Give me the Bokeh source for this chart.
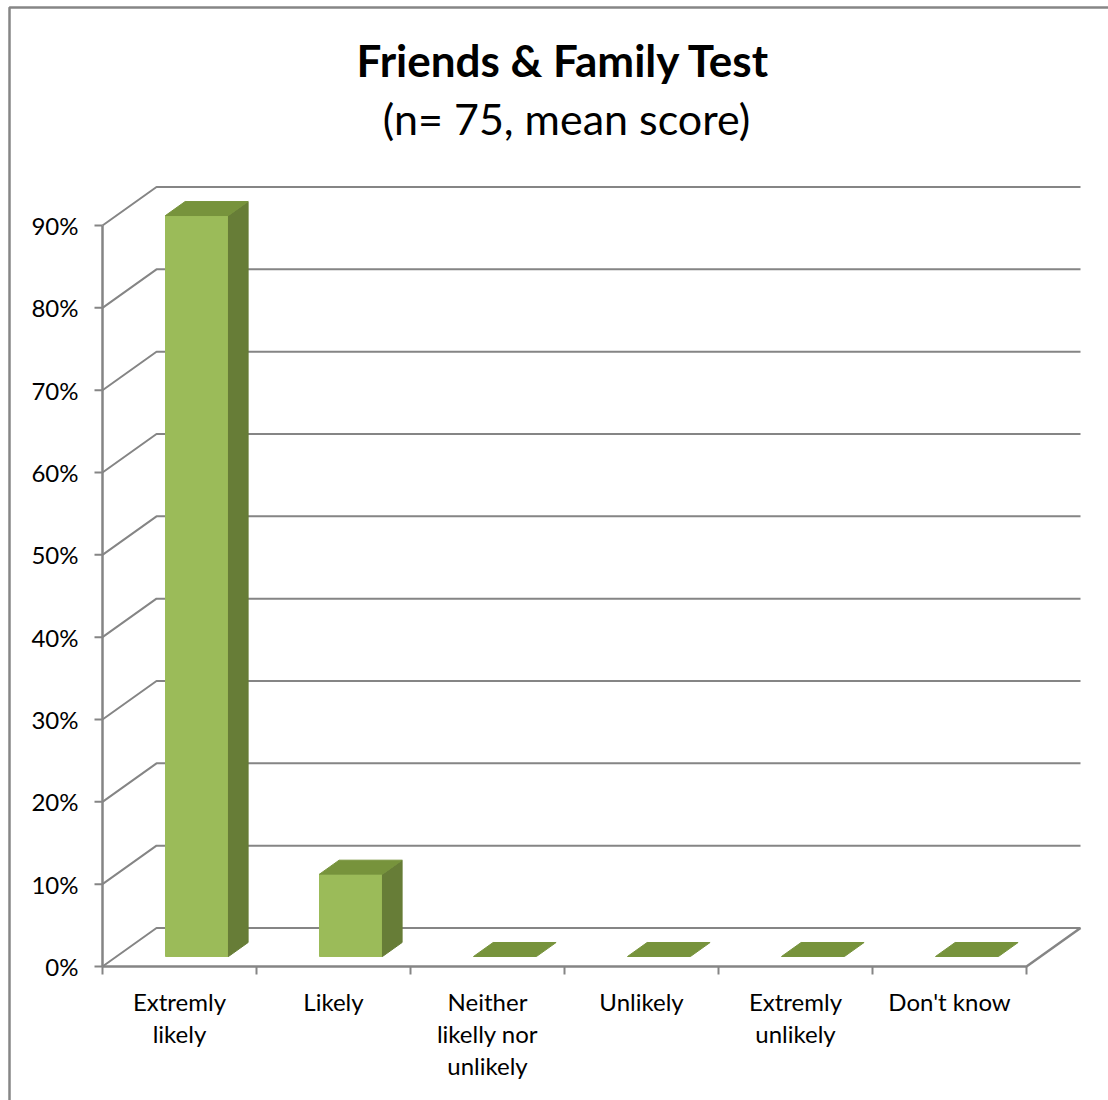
from bokeh.plotting import figure
from bokeh.models import Range1d
from bokeh.core.properties import value
from bokeh.embed import file_html
from bokeh.resources import INLINE

# ---------------- data ----------------
categories = ["Extremly\nlikely", "Likely", "Neither\nlikelly nor\nunlikely",
              "Unlikely", "Extremly\nunlikely", "Don't know"]
percentages = [90, 10, 0, 0, 0, 0]
y_ticks = [0, 10, 20, 30, 40, 50, 60, 70, 80, 90]
y_tick_labels = ["0%", "10%", "20%", "30%", "40%", "50%", "60%", "70%", "80%", "90%"]
title_text = "Friends & Family Test"
subtitle_text = "(n= 75, mean score)"

# ---------------- layout / style ----------------
W, H = 1108, 1100
X0_PX = 102.0        # pixel of category axis start
CAT_W = 154.0        # pixels per category
Y0_PX = 966.0        # pixel of 0%
PX_PER_PCT = 8.233   # pixels per percent
DEPTH_DX = 54.0 / CAT_W        # wall depth in category units
DEPTH_DY = 38.5 / PX_PER_PCT   # wall depth in percent units
F1, F2 = 0.26, 0.623           # bar front / back depth fractions
BAR_X0 = 0.318                 # bar left inside category (front plane)
BAR_W = 0.409

FONT = "Lato"
GRID_COL = "#858585"
FRONT_COL = "#9BBB59"
SIDE_COL = "#677D37"
TOP_COL = "#77933C"


def px2x(px):
    return (px - X0_PX) / CAT_W


def px2y(py):
    return (Y0_PX - py) / PX_PER_PCT


p = figure(width=W, height=H, output_backend="svg", toolbar_location=None,
           x_range=Range1d(px2x(0), px2x(W)), y_range=Range1d(px2y(H), px2y(0)),
           x_axis_type=None, y_axis_type=None, min_border=0,
           background_fill_color="white", border_fill_color="white")
p.grid.visible = False
p.outline_line_color = None

n = len(categories)

# outer chart border
p.line([px2x(9), px2x(9), px2x(W)], [px2y(H), px2y(7), px2y(7)],
       line_color="#868686", line_width=2.5)

# gridlines: left wall diagonal + back wall horizontal
gx, gy = [], []
for t in y_ticks:
    gx.append([0, DEPTH_DX, n + DEPTH_DX])
    gy.append([t, t + DEPTH_DY, t + DEPTH_DY])
p.multi_line(gx, gy, line_color=GRID_COL, line_width=2)

# floor front edge and right diagonal
p.line([0, n, n + DEPTH_DX], [0, 0, DEPTH_DY], line_color=GRID_COL, line_width=2.5)
# value axis
p.line([0, 0], [0, y_ticks[-1]], line_color=GRID_COL, line_width=2.5)

# value ticks
tick_len_x = 8 / CAT_W
p.segment(x0=[-tick_len_x] * len(y_ticks), y0=y_ticks, x1=[0] * len(y_ticks), y1=y_ticks,
          line_color=GRID_COL, line_width=2)
# category ticks
tick_len_y = 8 / PX_PER_PCT
cx = list(range(n + 1))
p.segment(x0=cx, y0=[0] * len(cx), x1=cx, y1=[-tick_len_y] * len(cx),
          line_color=GRID_COL, line_width=2)

# bars (pseudo 3D)
ddx = (F2 - F1) * DEPTH_DX
ddy = (F2 - F1) * DEPTH_DY
front_xs, front_ys, side_xs, side_ys, top_xs, top_ys = [], [], [], [], [], []
for i, v in enumerate(percentages):
    xl = i + BAR_X0 + F1 * DEPTH_DX
    xr = xl + BAR_W
    yb = F1 * DEPTH_DY
    yt = yb + v
    if v > 0:
        front_xs.append([xl, xr, xr, xl])
        front_ys.append([yb, yb, yt, yt])
        side_xs.append([xr, xr + ddx, xr + ddx, xr])
        side_ys.append([yb, yb + ddy, yt + ddy, yt])
    top_xs.append([xl, xr, xr + ddx, xl + ddx])
    top_ys.append([yt, yt, yt + ddy, yt + ddy])

p.patches(front_xs, front_ys, fill_color=FRONT_COL, line_color=FRONT_COL, line_width=1)
p.patches(side_xs, side_ys, fill_color=SIDE_COL, line_color=SIDE_COL, line_width=1)
p.patches(top_xs, top_ys, fill_color=TOP_COL, line_color=TOP_COL, line_width=1)

# value tick labels
p.text(x=[px2x(78)] * len(y_ticks), y=y_ticks, text=y_tick_labels,
       text_font=value(FONT), text_font_size="24px", text_color="#000000",
       text_align="right", text_baseline="middle")

# category labels (each line placed separately)
lx, ly, lt = [], [], []
for i, c in enumerate(categories):
    for j, line in enumerate(c.split("\n")):
        lx.append(i + 0.5)
        ly.append(px2y(1001 + 32 * j))
        lt.append(line)
p.text(x=lx, y=ly, text=lt, text_font=value(FONT), text_font_size="24px",
       text_color="#000000", text_align="center", text_baseline="middle")

# titles
p.text(x=[px2x(563)], y=[px2y(59)], text=[title_text], text_font=value(FONT),
       text_font_size="44px", text_font_style="bold", text_color="#000000",
       text_align="center", text_baseline="middle")
p.text(x=[px2x(566)], y=[px2y(118)], text=[subtitle_text], text_font=value(FONT),
       text_font_size="43px", text_color="#000000",
       text_align="center", text_baseline="middle")

open("out.html", "w").write(file_html(p, INLINE))
